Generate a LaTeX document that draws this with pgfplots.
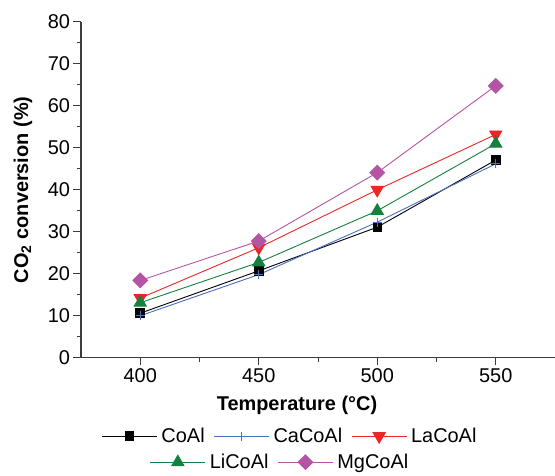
\documentclass[border=0pt]{standalone}
\usepackage{pgfplots}
\pgfplotsset{compat=1.18}
\usepackage{fontspec}
\setmainfont{Liberation Sans}
\definecolor{cblue}{RGB}{74,110,192}
\definecolor{cred}{RGB}{236,38,38}
\definecolor{cgreen}{RGB}{22,128,62}
\definecolor{cmag}{RGB}{180,84,164}
\definecolor{spine}{RGB}{60,60,60}
\begin{document}
\begin{tikzpicture}
\pgfplotsset{
  legimg/.style={legend image code/.code={\draw[mark repeat=2,mark phase=2,##1] plot coordinates {(0bp,0bp) (27.5bp,0bp) (55bp,0bp)};}},
}
\begin{axis}[
  name=main,
  scale only axis,
  width=474bp, height=335.7bp,
  xmin=375, xmax=575, ymin=0, ymax=80,
  axis lines*=left,
  axis line style={spine, line width=1.2bp},
  every tick/.style={spine, line width=1bp},
  tick align=outside,
  major tick length=7.5bp, minor tick length=4bp,
  xtick={400,450,500,550}, ytick={0,10,...,80},
  minor x tick num=1, minor y tick num=1,
  tick label style={font=\fontsize{20}{24}\selectfont},
  /pgf/number format/assume math mode=true,
  /pgf/number format/set thousands separator={},
  ylabel={\bfseries CO\textsubscript{2} conversion (\%)},
  every axis y label/.style={at={([xshift=-58bp]axis description cs:0,0.5)}, anchor=center, rotate=90, font=\fontsize{20}{24}\selectfont},
  xlabel={\bfseries Temperature (°C)},
  every axis x label/.style={at={([yshift=-47.5bp]axis description cs:0.4557,0)}, anchor=center, font=\fontsize{20}{24}\selectfont},
  clip=false,
  legimg,
  legend columns=3,
  legend style={draw=none, fill=none, at={(axis description cs:0.441,0)}, anchor=center, yshift=-78.5bp,
    font=\fontsize{20}{24}\selectfont, /tikz/every even column/.append style={column sep=7bp},
    /tikz/every odd column/.append style={column sep=2bp}},
  legend entries={CoAl,CaCoAl,LaCoAl},
]
\addplot[black, line width=0.9bp, mark=square*, mark size=4.3bp, mark options={solid}] coordinates {(400,10.6) (450,20.7) (500,31.1) (550,47.1)};
\addplot[cblue, line width=0.9bp, mark=+, mark size=4.5bp, mark options={solid}] coordinates {(400,10.0) (450,19.8) (500,32.3) (550,46.2)};
\addplot[cred, line width=0.9bp, mark=triangle*, mark size=7bp, mark options={solid, rotate=180}] coordinates {(400,14.2) (450,26.2) (500,40.0) (550,53.2)};
\addplot[cgreen, line width=0.9bp, mark=triangle*, mark size=7bp, mark options={solid}] coordinates {(400,13.1) (450,22.7) (500,35.0) (550,51.0)};
\addplot[cmag, line width=0.9bp, mark=square*, mark size=5.2bp, mark options={solid, rotate=45}] coordinates {(400,18.4) (450,27.8) (500,44.1) (550,64.8)};
\end{axis}
\begin{axis}[
  scale only axis,
  width=474bp, height=335.7bp,
  xmin=375, xmax=575, ymin=0, ymax=80,
  hide axis,
  legimg,
  legend columns=2,
  legend style={draw=none, fill=none, at={(axis description cs:0.42,0)}, anchor=center, yshift=-104.5bp,
    font=\fontsize{20}{24}\selectfont, /tikz/every even column/.append style={column sep=7bp},
    /tikz/every odd column/.append style={column sep=2bp}},
]
\addlegendimage{cgreen, line width=0.9bp, mark=triangle*, mark size=7bp, mark options={solid}}
\addlegendentry{LiCoAl}
\addlegendimage{cmag, line width=0.9bp, mark=square*, mark size=5.2bp, mark options={solid, rotate=45}}
\addlegendentry{MgCoAl}
\end{axis}
\pgfresetboundingbox
\path ([shift={(-81bp,-118.3bp)}]main.south west) rectangle ([shift={(0bp,22bp)}]main.north east);
\end{tikzpicture}
\end{document}
